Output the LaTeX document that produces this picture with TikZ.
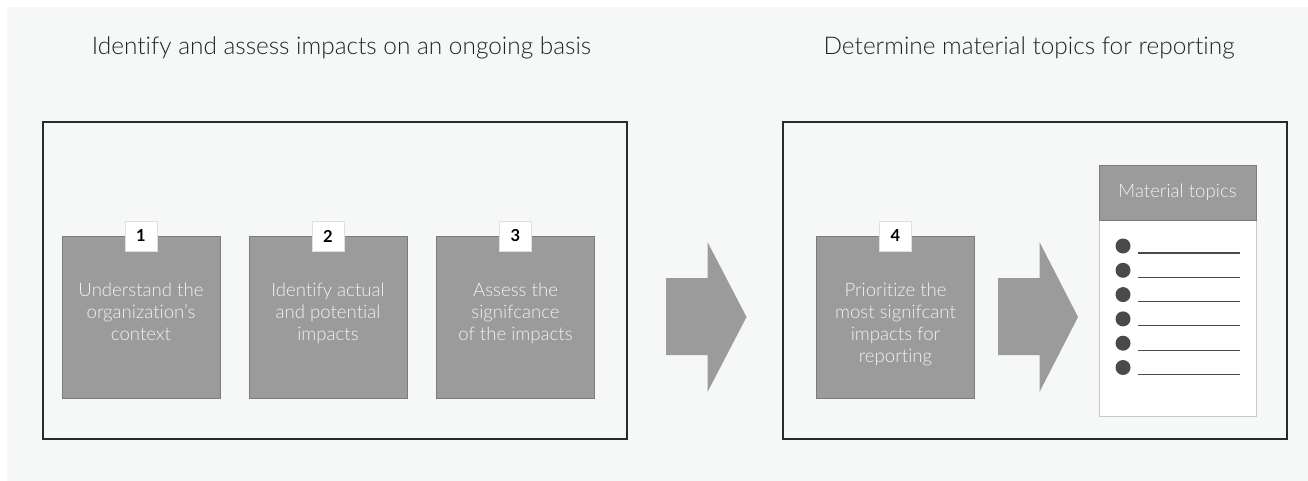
\documentclass[tikz,border=0pt]{standalone}
\usepackage{fontspec}
\setmainfont{Lato Light}[Ligatures={NoCommon,NoRequired,NoContextual}]
\newfontfamily\numfont{Lato Bold}
\definecolor{bgc}{HTML}{F6F8F8}
\definecolor{boxc}{HTML}{9B9B9B}
\definecolor{boxline}{HTML}{7C7C7C}
\definecolor{boxtext}{HTML}{F2F2F2}
\definecolor{titlec}{HTML}{222222}
\definecolor{framec}{HTML}{2A2A2A}
\definecolor{dotc}{HTML}{4A4A4A}
\definecolor{cardline}{HTML}{C8C8C8}
\tikzset{
  frame/.style={draw=framec, line width=1.1pt},
  stepbox/.style={draw=boxline, fill=boxc, line width=0.6pt, minimum width=158pt, minimum height=162pt, inner sep=0pt},
  steptext/.style={text=boxtext, align=center, font=\fontsize{18.6}{22}\selectfont, anchor=north, inner sep=0pt},
  tab/.style={draw=white!88!black, fill=white, minimum width=32pt, minimum height=30pt, inner sep=0pt, font=\numfont\fontsize{16.5}{16.5}\selectfont, text=black},
  title/.style={text=titlec, font=\fontsize{24.4}{28}\selectfont, inner sep=0pt},
  bigarrow/.style={fill=boxc},
  dot/.style={circle, fill=dotc, minimum size=15pt, inner sep=0pt},
}
\begin{document}
\begin{tikzpicture}[x=1pt,y=-1pt]
\useasboundingbox (0,0) rectangle (1308,481);
\fill[bgc] (7,7) rectangle (1308,481);
% titles
\node[title] (t1) at (341.5,48) {Identify and assess impacts on an ongoing basis};
\node[title] (t2) at (1029,48) {Determine material topics for reporting};
% frames
\draw[frame] (43,122) rectangle (627,439);
\draw[frame] (783,122) rectangle (1287,439);
% step boxes
\foreach \n/\cx/\txt in {1/141/{Understand the\\organization’s\\context},
                         2/328/{Identify actual\\and potential\\impacts},
                         3/515.5/{Assess the\\signifcance\\of the impacts},
                         4/895.5/{Prioritize the\\most signifcant\\impacts for\\reporting}}{
  \node[stepbox] (b\n) at (\cx,317) {};
  \node[tab] (tab\n) at (\cx,236) {\n};
  \node[steptext] (s\n) at (\cx,282.5) {\txt};
}
% big arrows
\fill[bigarrow] (666,278) -- (707.5,278) -- (707.5,242) -- (746.5,317) -- (707.5,392) -- (707.5,355) -- (666,355) -- cycle;
\fill[bigarrow] (998,278) -- (1039.5,278) -- (1039.5,242) -- (1078,317) -- (1039.5,392) -- (1039.5,355) -- (998,355) -- cycle;
% material topics card
\draw[cardline, fill=white, line width=0.8pt] (1099,165) rectangle (1256,416);
\draw[draw=boxline, fill=boxc, line width=0.6pt] (1099,165) rectangle (1256,220);
\node[text=boxtext, font=\fontsize{18.6}{22}\selectfont, inner sep=0pt] (mt) at (1177.5,192) {Material topics};
\foreach \i in {0,...,5}{
  \node[dot] (d\i) at (1123,{246+24.3*\i}) {};
  \coordinate (l\i) at (1240,{253+24.3*\i});
  \draw[dotc, line width=1.1pt] (1138,{253+24.3*\i}) -- (l\i);
}
\end{tikzpicture}
\end{document}
